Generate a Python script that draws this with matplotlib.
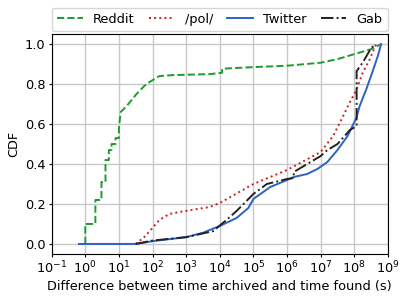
import matplotlib
matplotlib.use("Agg")
import matplotlib.pyplot as plt
import numpy as np

# x values as log10(seconds), y values as CDF
reddit_logx = [0.0, 0.0, 0.3, 0.3, 0.48, 0.48, 0.6, 0.6, 0.7, 0.7, 0.78, 0.78, 0.9, 0.9, 1.0, 1.0,
               1.05, 1.23, 1.52, 1.81, 2.2, 2.6, 3.7, 4.07, 4.07, 5.0, 6.0, 7.0, 7.5, 8.0, 8.5, 8.8]
reddit_cdf = [0.0, 0.1, 0.1, 0.22, 0.22, 0.31, 0.31, 0.42, 0.42, 0.47, 0.47, 0.5, 0.5, 0.53, 0.53, 0.58,
              0.66, 0.69, 0.75, 0.8, 0.84, 0.845, 0.85, 0.857, 0.877, 0.885, 0.892, 0.907, 0.925, 0.95, 0.975, 1.0]

pol_logx = [1.5, 1.75, 2.0, 2.2, 2.5, 2.8, 3.7, 4.0, 5.0, 6.0, 7.0, 7.37, 7.67, 7.87, 8.06, 8.26, 8.45, 8.6, 8.65]
pol_cdf = [0.0, 0.034, 0.08, 0.12, 0.15, 0.16, 0.185, 0.205, 0.30, 0.37, 0.46, 0.54, 0.64, 0.71, 0.77, 0.86, 0.92, 0.98, 1.0]

twitter_logx = [-0.19, 1.5, 2.0, 3.0, 3.5, 4.0, 4.5, 4.85, 5.0, 5.5, 6.0, 6.2, 6.6, 6.9, 7.2, 7.5, 7.8,
                8.06, 8.16, 8.36, 8.56, 8.7, 8.8]
twitter_cdf = [0.0, 0.0, 0.014, 0.034, 0.056, 0.09, 0.13, 0.18, 0.225, 0.285, 0.32, 0.335, 0.35, 0.375,
               0.41, 0.47, 0.54, 0.63, 0.69, 0.775, 0.87, 0.94, 1.0]

gab_logx = [1.5, 2.0, 3.0, 3.8, 4.2, 4.5, 5.0, 5.4, 6.0, 6.2, 6.2, 6.7, 7.0, 7.2, 7.5, 7.87, 8.07, 8.07,
            8.26, 8.45, 8.6]
gab_cdf = [0.0, 0.017, 0.034, 0.064, 0.12, 0.165, 0.25, 0.30, 0.325, 0.33, 0.36, 0.41, 0.44, 0.47, 0.50,
           0.57, 0.59, 0.865, 0.91, 0.965, 1.0]

fs = 9.3
fig = plt.figure(figsize=(4.07, 2.97), dpi=100)
ax = fig.add_axes([0.127, 0.145, 0.826, 0.74])

ax.plot(10 ** np.array(reddit_logx), reddit_cdf, "--", color="#1f9a32", lw=1.4, label="Reddit")
ax.plot(10 ** np.array(pol_logx), pol_cdf, ":", color="#cc1f1f", lw=1.4, label="/pol/")
ax.plot(10 ** np.array(twitter_logx), twitter_cdf, "-", color="#2b62c8", lw=1.4, label="Twitter")
ax.plot(10 ** np.array(gab_logx), gab_cdf, "-.", color="#222222", lw=1.4, label="Gab")

ax.set_xscale("log")
ax.set_xlim(1e-1, 1e9)
ax.set_ylim(-0.05, 1.05)
ax.set_xticks([10.0 ** k for k in range(-1, 10)])
ax.set_yticks([0.0, 0.2, 0.4, 0.6, 0.8, 1.0])
ax.grid(True, which="major", color="#c8c8c8", lw=1.0)
ax.tick_params(labelsize=fs, length=2.5, pad=2)
ax.tick_params(which="minor", length=1.5)
ax.set_xlabel("Difference between time archived and time found (s)", fontsize=fs, labelpad=2)
ax.set_ylabel("CDF", fontsize=fs, labelpad=3)

ax.legend(ncol=4, loc="lower left", bbox_to_anchor=(0.0, 1.015, 1.0, 0.1), mode="expand",
          fontsize=fs, handlelength=2.0, borderaxespad=0.0, columnspacing=0.8, handletextpad=0.8)

fig.savefig("out.png", dpi=100)
